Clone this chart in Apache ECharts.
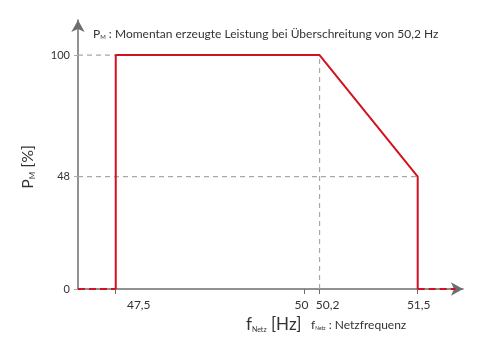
<!DOCTYPE html>
<html><head><meta charset="utf-8">
<script src="https://cdn.jsdelivr.net/npm/echarts@6/dist/echarts.min.js"></script>
<style>html,body{margin:0;padding:0;background:#fff}#c{width:487px;height:357px}</style>
</head><body><div id="c"></div>
<script>
// Data
const outlineX = [47.5, 47.5, 50.2, 51.5, 51.5];
const outlineY = [0, 100, 100, 48, 0];
const leftDashX = [47, 47.5];
const leftDashY = [0, 0];
const rightDashX = [51.5, 52.0];
const rightDashY = [0, 0];
const guide100X = [47, 47.5];
const guide100Y = [100, 100];
const guide48X = [47, 51.5];
const guide48Y = [48, 48];
const guide502X = [50.2, 50.2];
const guide502Y = [0, 100];
const xTicks = [47.5, 50, 50.2, 51.5];
const xTickLabels = ['47,5', '50', '50,2', '51,5'];
const yTicks = [0, 48, 100];
const yTickLabels = ['0', '48', '100'];

const zip = (xs, ys) => xs.map((x, i) => [x, ys[i]]);
const FONT = 'Lato, "Open Sans", sans-serif';
const RED = '#d3111f';
const GRID = '#a8a8a8';
const AXIS = '#6e6e6e';

const labelPad = {'47,5': [0,0,0,46], '50': [0,6,0,0], '50,2': [0,0,0,16], '51,5': [0,0,0,2]};
const rich = {};
xTickLabels.forEach((t, i) => { rich['l' + i] = {padding: labelPad[t], fontSize: 12, color: '#333', fontFamily: FONT}; });

const chart = echarts.init(document.getElementById('c'));
const guideStyle = {color: GRID, width: 1.2, type: [5, 4]};
const mk = (data, lineStyle, z) => ({type: 'line', data, symbol: 'none', lineStyle, z, silent: true, animation: false});

chart.setOption({
  animation: false,
  grid: {left: 78, right: 24, top: 20, bottom: 68},
  xAxis: {
    type: 'value', min: 47, max: 52.1,
    axisLine: {show: true, lineStyle: {color: AXIS, width: 1.5}, symbol: ['none', 'arrow'], symbolSize: [10, 12], symbolOffset: [0, 0]},
    axisTick: {show: true, customValues: xTicks, length: 5, lineStyle: {color: AXIS}},
    axisLabel: {customValues: xTicks, margin: 10, rich,
      formatter: v => { const i = xTicks.indexOf(Math.round(v * 10) / 10); return i < 0 ? '' : '{l' + i + '|' + xTickLabels[i] + '}'; }},
    splitLine: {show: false}
  },
  yAxis: {
    type: 'value', min: 0, max: 115,
    axisLine: {show: true, lineStyle: {color: AXIS, width: 1.5}, symbol: ['none', 'arrow'], symbolSize: [10, 12]},
    axisTick: {show: true, customValues: yTicks, length: 4, lineStyle: {color: GRID}},
    axisLabel: {customValues: yTicks, margin: 8, fontSize: 11, color: '#333', fontFamily: FONT,
      formatter: v => { const i = yTicks.indexOf(Math.round(v)); return i < 0 ? '' : yTickLabels[i]; }},
    splitLine: {show: false}
  },
  series: [
    mk(zip(guide100X, guide100Y), guideStyle, 1),
    mk(zip(guide48X, guide48Y), guideStyle, 1),
    mk(zip(guide502X, guide502Y), guideStyle, 1),
    mk(zip(leftDashX, leftDashY), {color: RED, width: 2, type: [7, 4]}, 5),
    mk(zip(rightDashX, rightDashY), {color: RED, width: 2, type: [7, 4]}, 5),
    mk(zip(outlineX, outlineY), {color: RED, width: 2}, 5)
  ],
  graphic: [
    {type: 'text', left: 93, top: 28, style: {
      text: '{p|P}{s|M}{t| : Momentan erzeugte Leistung bei Überschreitung von 50,2 Hz}',
      rich: {p: {fontSize: 12, fontFamily: FONT, fill: '#333'}, s: {fontSize: 6, fontFamily: FONT, fill: '#333', padding: [6,0,0,0]}, t: {fontSize: 12, fontFamily: FONT, fill: '#333'}}}},
    {type: 'text', x: 28, y: 167, rotation: Math.PI / 2, style: {
      text: '{p|P}{s|M}{t| [%]}', align: 'center', verticalAlign: 'middle',
      rich: {p: {fontSize: 16, fontFamily: FONT, fill: '#333'}, s: {fontSize: 8, fontFamily: FONT, fill: '#333', padding: [8,0,0,0]}, t: {fontSize: 16, fontFamily: FONT, fill: '#333'}}}},
    {type: 'text', left: 246, top: 316, style: {
      text: '{p|f}{s|Netz}{t| [Hz]}',
      rich: {p: {fontSize: 17, fontFamily: FONT, fill: '#333'}, s: {fontSize: 7, fontFamily: FONT, fill: '#333', padding: [10,0,0,0]}, t: {fontSize: 17, fontFamily: FONT, fill: '#333'}}}},
    {type: 'text', left: 311, top: 319, style: {
      text: '{p|f}{s|Netz}{t| : Netzfrequenz}',
      rich: {p: {fontSize: 12, fontFamily: FONT, fill: '#333'}, s: {fontSize: 5, fontFamily: FONT, fill: '#333', padding: [7,0,0,0]}, t: {fontSize: 12, fontFamily: FONT, fill: '#333'}}}}
  ]
});
</script></body></html>
